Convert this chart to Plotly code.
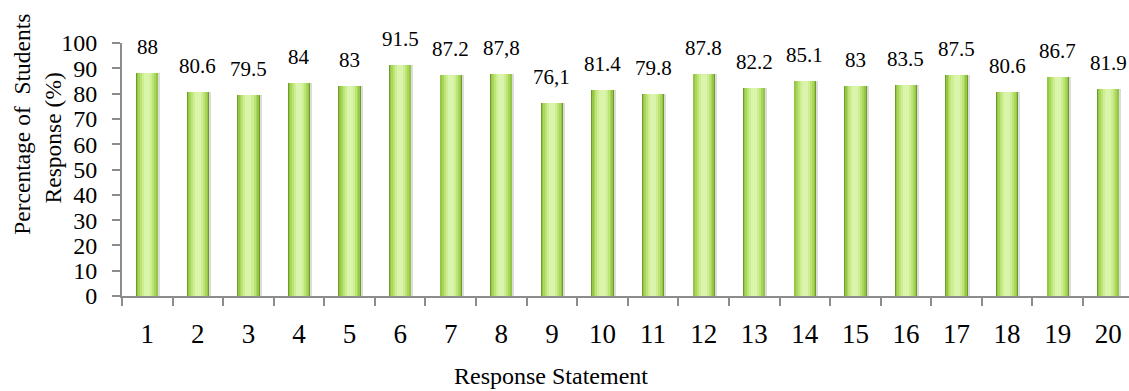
import plotly.graph_objects as go

statements = [str(i) for i in range(1, 21)]
percentages = [88, 80.6, 79.5, 84, 83, 91.5, 87.2, 87.8, 76.1, 81.4,
               79.8, 87.8, 82.2, 85.1, 83, 83.5, 87.5, 80.6, 86.7, 81.9]
value_labels = ["88", "80.6", "79.5", "84", "83", "91.5", "87.2", "87,8", "76,1", "81.4",
                "79.8", "87.8", "82.2", "85.1", "83", "83.5", "87.5", "80.6", "86.7", "81.9"]
y_ticks = list(range(0, 101, 10))

SERIF = "Liberation Serif, 'Times New Roman', Times, serif"

fig = go.Figure()

# soft drop shadow to the right of each column
fig.add_trace(go.Bar(x=statements, y=percentages, width=0.46, offset=-0.2,
                     marker=dict(color="rgba(60,60,60,0.18)", line=dict(width=0)),
                     hoverinfo="skip", showlegend=False))

# layered columns give a cylinder-like green shading
layers = [
    (0.44, "#6f9a2c"),
    (0.41, "#95c646"),
    (0.35, "#a8d659"),
    (0.28, "#bde477"),
    (0.20, "#cdee93"),
    (0.12, "#daf5ab"),
]
for w, c in layers:
    fig.add_trace(go.Bar(x=statements, y=percentages, width=w,
                         marker=dict(color=c, line=dict(width=0)),
                         hoverinfo="skip", showlegend=False))

# value labels above the columns (category axis positions are indices)
for i, (v, t) in enumerate(zip(percentages, value_labels)):
    fig.add_annotation(x=i, y=v, text=t, showarrow=False, yanchor="bottom",
                       yshift=12, font=dict(family=SERIF, size=21, color="#000"))

# axis titles
fig.add_annotation(xref="paper", yref="paper", x=-0.099, y=0.678,
                   text="Percentage of  Students", textangle=-90, showarrow=False,
                   xanchor="center", yanchor="middle",
                   font=dict(family=SERIF, size=23.5, color="#000"))
fig.add_annotation(xref="paper", yref="paper", x=-0.069, y=0.625,
                   text="Response (%)", textangle=-90, showarrow=False,
                   xanchor="center", yanchor="middle",
                   font=dict(family=SERIF, size=23.5, color="#000"))
fig.add_annotation(xref="paper", yref="paper", x=0.426, y=-0.315,
                   text="Response Statement", showarrow=False,
                   xanchor="center", yanchor="middle",
                   font=dict(family=SERIF, size=24, color="#000"))

fig.update_layout(
    width=1129, height=391,
    margin=dict(l=122, r=0, t=43, b=95),
    barmode="overlay", bargap=0,
    plot_bgcolor="white", paper_bgcolor="white",
    showlegend=False,
    font=dict(family=SERIF, color="#000"),
)
fig.update_xaxes(type="category", range=[-0.5, 19.41], tickson="boundaries",
                 showline=True, linecolor="#8c8c8c", linewidth=2,
                 ticks="outside", ticklen=8, tickwidth=2, tickcolor="#8c8c8c",
                 ticklabelstandoff=13, showgrid=False, zeroline=False,
                 tickfont=dict(family=SERIF, size=27, color="#000"))
fig.update_yaxes(range=[0, 100], tickvals=y_ticks, showline=True,
                 linecolor="#8c8c8c", linewidth=2, ticks="outside", ticklen=8,
                 tickwidth=2, tickcolor="#8c8c8c", ticklabelstandoff=10,
                 showgrid=False, zeroline=False,
                 tickfont=dict(family=SERIF, size=24, color="#000"))

fig.write_html("out.html")
